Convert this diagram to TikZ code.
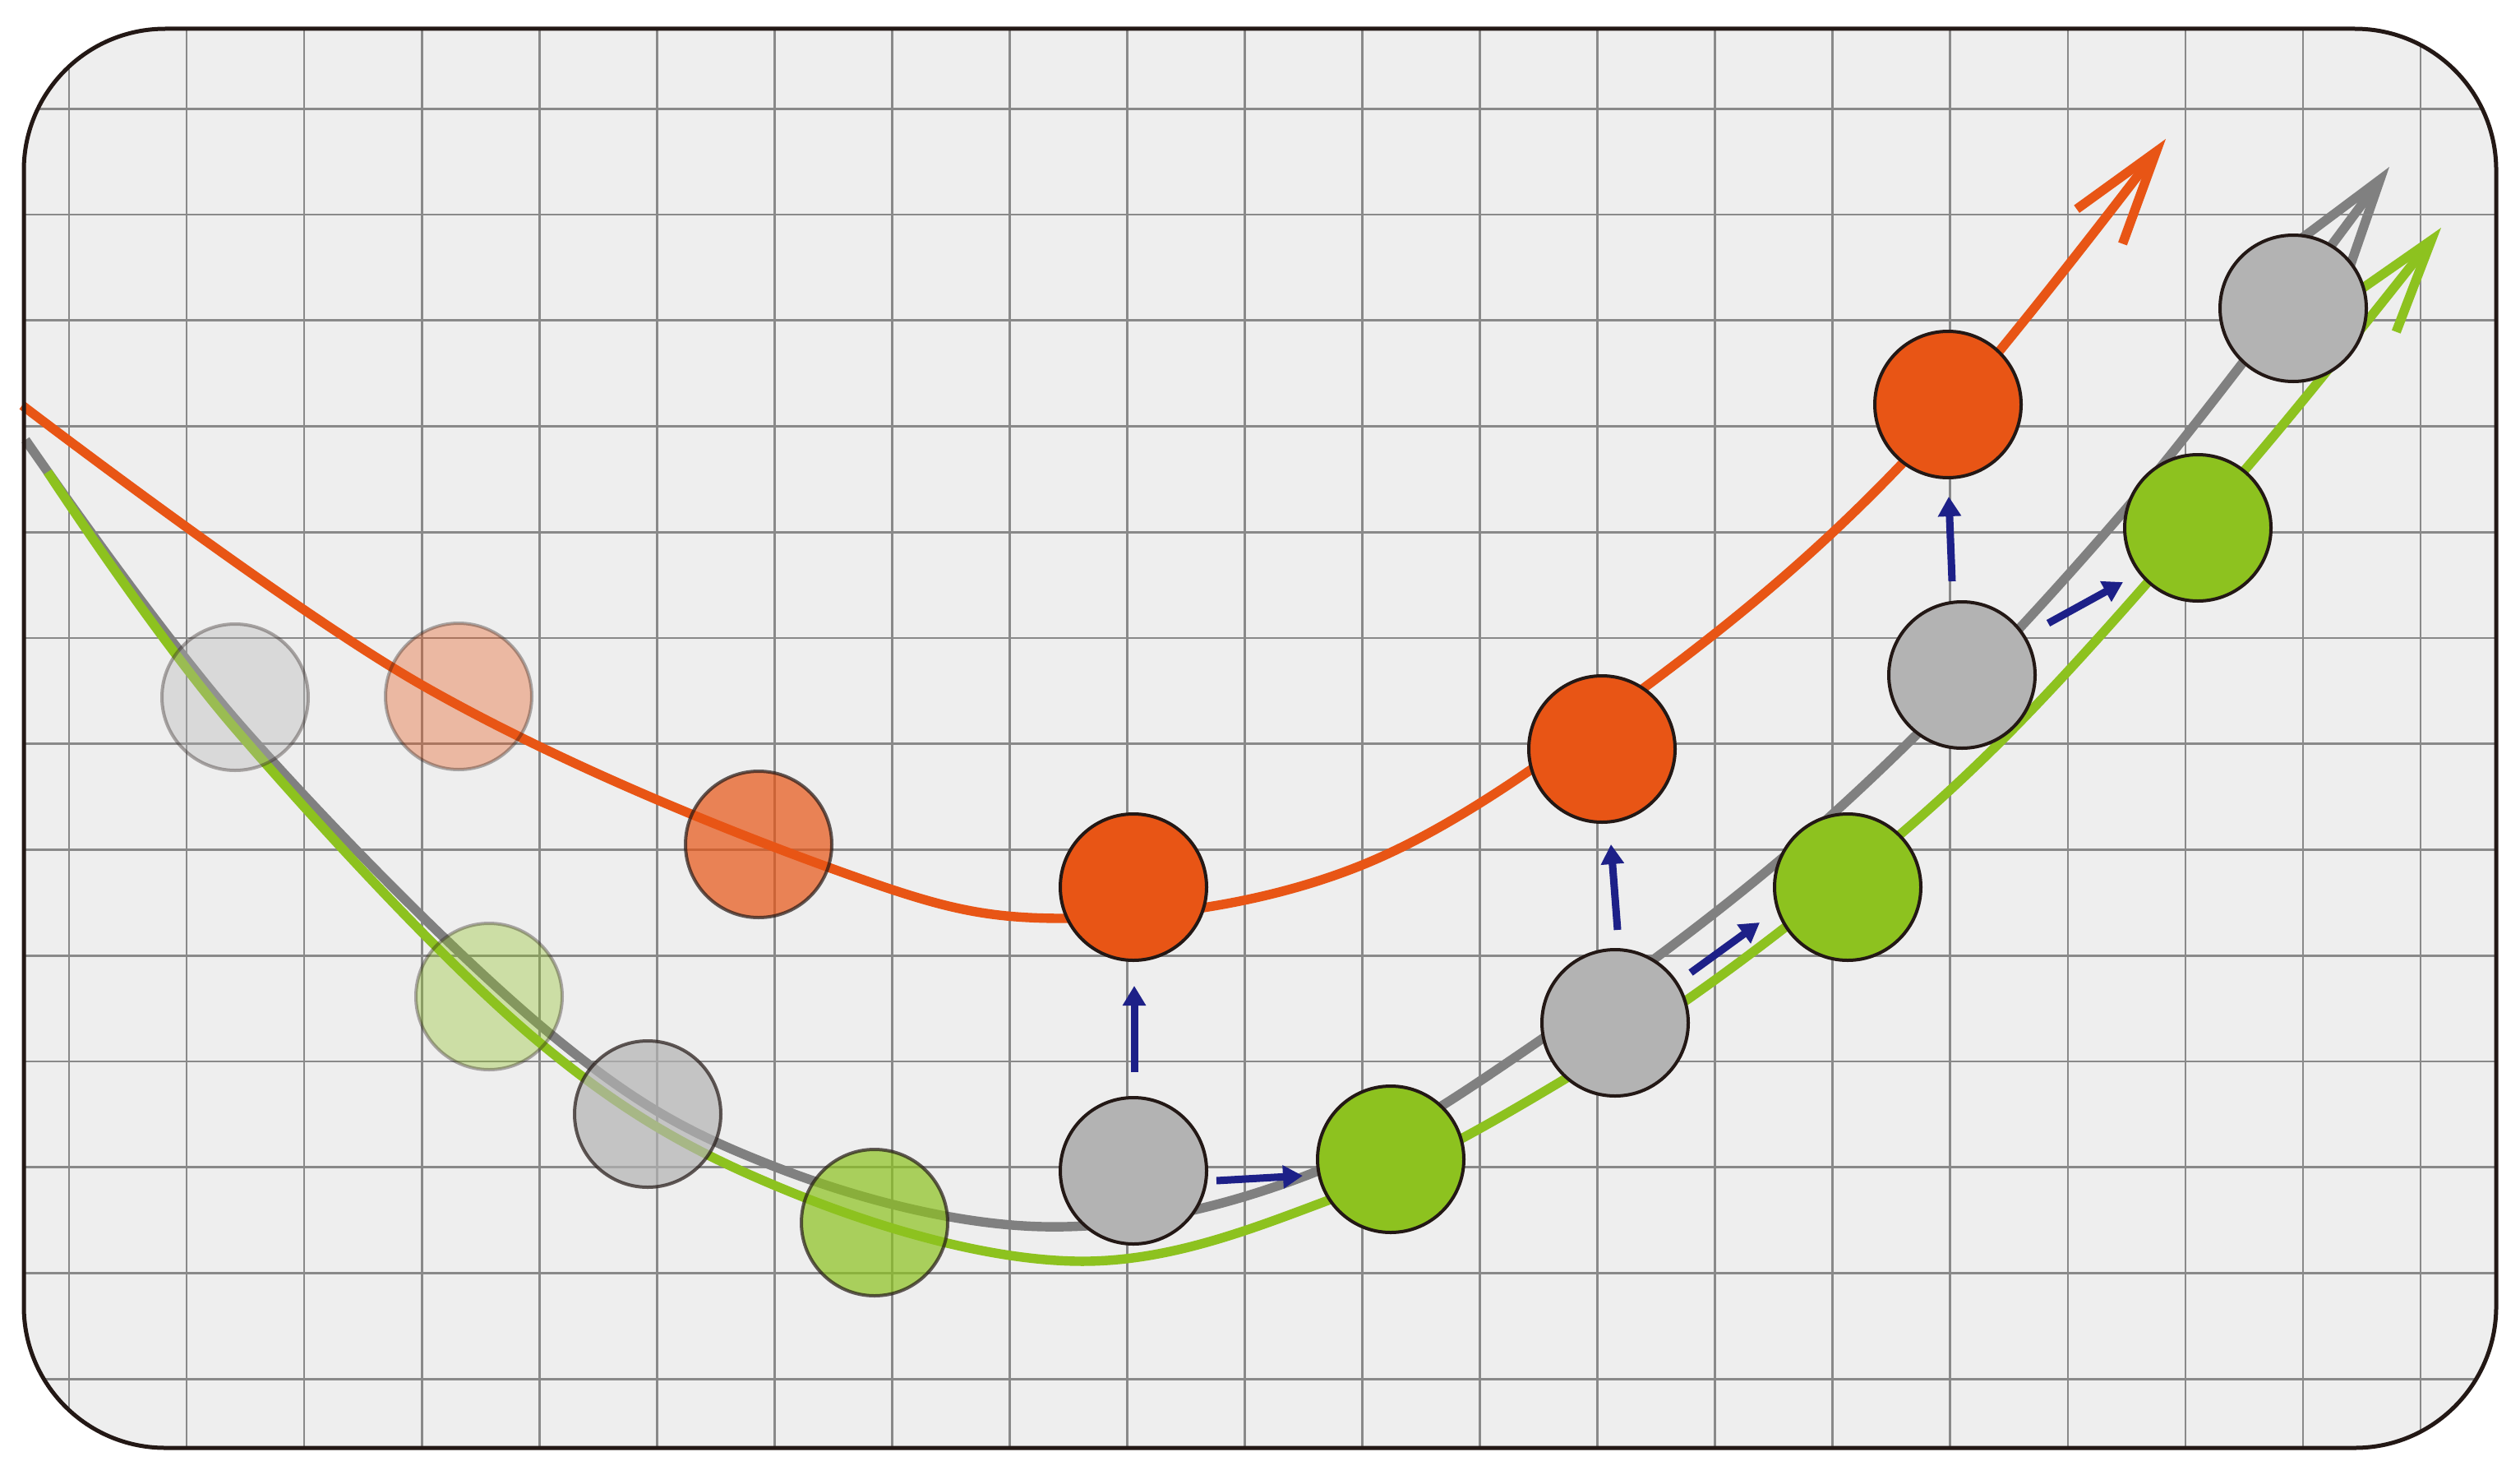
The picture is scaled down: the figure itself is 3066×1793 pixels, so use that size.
\documentclass[tikz,border=0pt]{standalone}
\usetikzlibrary{arrows.meta}
\definecolor{bgc}{HTML}{EEEEEE}
\definecolor{gridc}{HTML}{898989}
\definecolor{framec}{HTML}{231815}
\definecolor{ballorange}{HTML}{E85515}
\definecolor{ballgray}{HTML}{B3B3B3}
\definecolor{ballgreen}{HTML}{8DC21F}
\definecolor{curvegray}{HTML}{808080}
\definecolor{arrowblue}{HTML}{1D2088}
\begin{document}
\begin{tikzpicture}[x=0.5pt,y=-0.5pt,
  ball/.style={circle, draw=framec, line width=2pt, minimum size=89pt, inner sep=0pt},
  gball/.style={ball, fill=ballgray},
  oball/.style={ball, fill=ballorange},
  vball/.style={ball, fill=ballgreen},
  faint/.style={opacity=0.35},
  half/.style={opacity=0.7},
  curve/.style={line width=5.7pt, -{Straight Barb[length=57pt,width=35pt,sharp]}},
  blarrow/.style={draw=arrowblue, line width=4.5pt, -{Triangle[length=12pt,width=13.5pt]}},
  gridline/.style={draw=gridc, line width=1.35pt}
]
\useasboundingbox (0,0) rectangle (3066,1793);
% background
\path[fill=bgc, rounded corners=86pt] (29,35) rectangle (3037,1761);
% grid
\begin{scope}
  \clip[rounded corners=86pt] (29,35) rectangle (3037,1761);
  \foreach \i in {0,...,20} \draw[gridline] ({84+143.05*\i},0) -- ({84+143.05*\i},1793);
  \foreach \j in {0,...,12} \draw[gridline] (0,{132.3+128.75*\j}) -- (3066,{132.3+128.75*\j});
\end{scope}
% curves
\draw[curve, draw=curvegray] plot[smooth, tension=0.6] coordinates {
  (31,535) (296,886) (669,1257) (940,1418) (1270,1492) (1586,1431)
  (1874,1265) (2231,989) (2584,622) (2907,203)};
\draw[curve, draw=ballgreen] plot[smooth, tension=0.6] coordinates {
  (58,574) (286,886) (654,1266) (960,1449) (1311,1534) (1621,1458)
  (1908,1310) (2173,1127) (2435,901) (2736,566) (2970,277)};
\draw[curve, draw=ballorange] plot[smooth, tension=0.6] coordinates {
  (27,493) (513,833) (1011,1056) (1300,1117) (1655,1053) (2001,836)
  (2317,561) (2635,169)};
% faded circles
\node[gball, faint] (g1) at (286,848) {};
\node[oball, faint] (o2) at (558,847) {};
\node[oball, half]  (o3) at (923,1027) {};
\node[vball, faint] (v4) at (595,1212) {};
\node[gball, half]  (g5) at (788,1355) {};
\node[vball, half]  (v6) at (1064,1487) {};
% solid circles
\node[oball] (o7)  at (1379,1079) {};
\node[gball] (g8)  at (1379,1424) {};
\node[vball] (v9)  at (1692,1410) {};
\node[gball] (g10) at (1965,1244) {};
\node[oball] (o11) at (1949,911) {};
\node[vball] (v12) at (2248,1079) {};
\node[gball] (g13) at (2387,821) {};
\node[oball] (o14) at (2370,492) {};
\node[vball] (v15) at (2674,642) {};
\node[gball] (g16) at (2790,375) {};
% blue arrows
\draw[blarrow] ([shift={(1,-120)}]g8.center) -- ([shift={(1,120)}]o7.center);
\draw[blarrow] ([shift={(101,12)}]g8.center) -- ([shift={(-107,20)}]v9.center);
\draw[blarrow] ([shift={(3,-113)}]g10.center) -- ([shift={(11,116)}]o11.center);
\draw[blarrow] ([shift={(92,-61)}]g10.center) -- ([shift={(-107,43)}]v12.center);
\draw[blarrow] ([shift={(-12,-114)}]g13.center) -- ([shift={(1,112)}]o14.center);
\draw[blarrow] ([shift={(105,-63)}]g13.center) -- ([shift={(-91,66)}]v15.center);
% frame
\draw[draw=framec, line width=2.5pt, rounded corners=86pt] (29,35) rectangle (3037,1761);
\end{tikzpicture}
\end{document}
